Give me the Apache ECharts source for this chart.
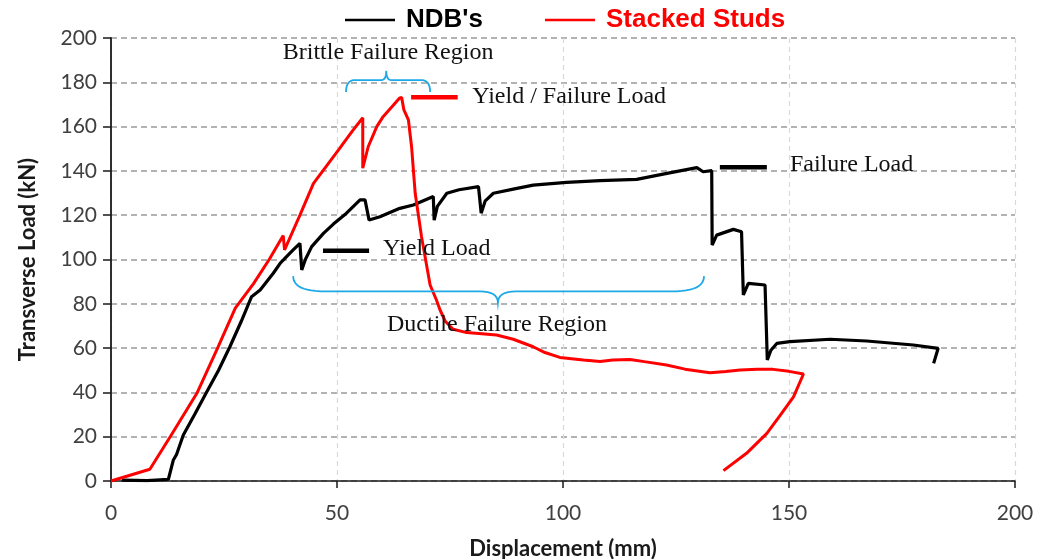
<!DOCTYPE html>
<html>
<head>
<meta charset="utf-8">
<script src="https://cdn.jsdelivr.net/npm/echarts@6/dist/echarts.min.js"></script>
<style>html,body{margin:0;padding:0;background:#fff}#c{width:1037px;height:559px}</style>
</head>
<body>
<div id="c"></div>
<script>
// ---- data (displacement mm, load kN) ----
const seriesNames = ["NDB's", "Stacked Studs"];
const ndbData = [
  [2.4,0.4],[8,0.2],[12.7,0.8],[13.8,9.5],[14.5,12],[16,20.8],[18.5,30],[21.2,40.3],[23.8,50],[26.3,60.6],
  [28.8,72],[31.1,83.2],[33,86.2],[35.9,93.8],[37.5,98.5],[40.3,104.3],[41.8,107.3],[42.2,95.3],[43,100],[44.4,105.8],
  [47,111.8],[49.2,116],[52.1,120.9],[55.1,126.9],[56.2,126.9],[57.1,117.8],[59.5,119.3],[63.9,123.1],[66.9,124.6],
  [71.3,128.4],[71.5,117.8],[72.2,124],[74.3,129.9],[77,131.5],[81.3,132.9],[81.9,120.9],[82.8,126.5],[84.6,129.9],
  [89,131.8],[93.4,133.6],[100.8,134.8],[108.2,135.6],[116.3,136.2],[123,138.9],[129.6,141.5],[131,139.6],[132.9,140.1],
  [133,106.5],[134,111],[137.7,113.6],[139.5,112.5],[139.9,84],[141,89.2],[144.7,88.5],[145.2,54.6],[146,59],
  [147.3,62.1],[150.2,62.9],[159.1,64],[167.2,63.2],[177.5,61.4],[183,59.9],[182,53.1]
];
const studsData = [
  [0,0],[8.6,5.3],[13.1,20],[19,39.6],[23.7,60.6],[27.5,78],[31.5,89],[35,100],[38.1,110.8],[38.4,104.3],
  [41.8,120],[44.8,134.4],[50.3,149.4],[53.3,157.7],[55.7,164],[55.7,141.2],[56.9,150.9],[58.8,160],[60.2,164.5],[62.5,169.8],
  [63.8,172.8],[64.3,173.2],[64.8,167.5],[65.8,163],[66.5,150.9],[67.3,129.9],[68.7,110.3],[70.6,88.5],[72,81.7],[72.8,77.2],
  [74,72],[75.7,68.5],[78.7,67],[82,66.5],[85.3,65.9],[89,64],[93.4,60.6],[96,58],[99.3,55.8],[104.5,54.6],[108.2,53.9],
  [111,54.6],[114.8,54.9],[118,53.9],[122.9,52.4],[127,50.5],[132.5,48.9],[136,49.4],[139.2,50.1],[143,50.5],
  [146.5,50.4],[150,49.5],[153.2,48.3],[151,38],[148,29.5],[145.1,21.5],[140.6,12.5],[135.5,4.7]
];
const xTicks = { min: 0, max: 200, interval: 50 };
const yTicks = { min: 0, max: 200, interval: 20 };
const axisNames = { x: 'Displacement (mm)', y: 'Transverse Load (kN)' };

// ---- annotation anchors (data coordinates) ----
const annoTexts = [
  { text: 'Brittle Failure Region', at: [61.3, 193.2], align: 'center' },
  { text: 'Yield / Failure Load', at: [79.9, 173.4], align: 'left' },
  { text: 'Yield Load', at: [60.2, 104.7], align: 'left' },
  { text: 'Failure Load', at: [150.2, 142.7], align: 'left' },
  { text: 'Ductile Failure Region', at: [85.4, 70.4], align: 'center' }
];
const annoLines = [
  { from: [66.4, 173.2], to: [76.7, 173.2], color: '#ff0000' },
  { from: [46.9, 104.0], to: [57.1, 104.0], color: '#000000' },
  { from: [134.7, 141.6], to: [145.1, 141.6], color: '#000000' }
];
const braces = [
  { x1: 52.0, x2: 70.6, xt: 60.9, yEnd: 175.6, yFlat: 181.0, yTip: 185.2, r: 9, rt: 5 },
  { x1: 40.3, x2: 131.2, xt: 85.6, yEnd: 92.5, yFlat: 85.6, yTip: 80.4, r: 32, rt: 18 }
];

const chart = echarts.init(document.getElementById('c'), null, { renderer: 'canvas' });
const tickFont = { fontFamily: 'Lato', fontSize: 21, color: '#404040' };
chart.setOption({
  animation: false,
  backgroundColor: '#ffffff',
  grid: { left: 111, right: 22, top: 38, bottom: 78, containLabel: false, outerBoundsMode: 'none' },
  legend: {
    left: 340, top: 2,
    itemWidth: 50, itemHeight: 2.5, itemGap: 62,
    icon: 'rect',
    textStyle: { fontFamily: 'Liberation Sans', fontWeight: 'bold', fontSize: 26, padding: [0, 0, 0, 6] },
    data: [
      { name: seriesNames[0], textStyle: { color: '#000000' } },
      { name: seriesNames[1], textStyle: { color: '#ff0000' } }
    ]
  },
  xAxis: {
    type: 'value', min: xTicks.min, max: xTicks.max, interval: xTicks.interval,
    name: axisNames.x, nameLocation: 'middle', nameGap: 57,
    nameTextStyle: { fontFamily: 'Lato', fontWeight: 'bold', fontSize: 22, color: '#1a1a1a' },
    axisLine: { show: true, onZero: false, lineStyle: { color: '#1a1a1a', width: 1.5 } },
    axisTick: { show: true, length: 7, lineStyle: { color: '#1a1a1a', width: 1.5 } },
    axisLabel: Object.assign({ margin: 22 }, tickFont),
    splitLine: { show: true, lineStyle: { color: '#d9d9d9', type: [5, 4], width: 1.2 } }
  },
  yAxis: {
    type: 'value', min: yTicks.min, max: yTicks.max, interval: yTicks.interval,
    name: axisNames.y, nameLocation: 'middle', nameGap: 72, nameRotate: 90,
    nameTextStyle: { fontFamily: 'Lato', fontWeight: 'bold', fontSize: 22, color: '#1a1a1a' },
    axisLine: { show: true, lineStyle: { color: '#1a1a1a', width: 1.8 } },
    axisTick: { show: true, length: 8, lineStyle: { color: '#1a1a1a', width: 1.5 } },
    axisLabel: Object.assign({ margin: 14 }, tickFont),
    splitLine: { show: true, lineStyle: { color: '#9a9a9a', type: [6, 4], width: 1.5 } }
  },
  series: [
    { name: seriesNames[0], type: 'line', data: ndbData, symbol: 'none', color: '#000000',
      lineStyle: { color: '#000000', width: 3.2 }, z: 3 },
    { name: seriesNames[1], type: 'line', data: studsData, symbol: 'none', color: '#ff0000',
      lineStyle: { color: '#ff0000', width: 3 }, z: 4 }
  ]
});

function px(p) { return chart.convertToPixel({ gridIndex: 0 }, p); }
function quad(out, p0, c, p1, n) {
  for (let i = 1; i <= n; i++) {
    const t = i / n, u = 1 - t;
    out.push([u * u * p0[0] + 2 * u * t * c[0] + t * t * p1[0], u * u * p0[1] + 2 * u * t * c[1] + t * t * p1[1]]);
  }
}
const g = [];
annoLines.forEach(l => {
  const a = px(l.from), b = px(l.to);
  g.push({ type: 'line', shape: { x1: a[0], y1: a[1], x2: b[0], y2: b[1] },
    style: { stroke: l.color, lineWidth: 4.5 }, z: 10 });
});
braces.forEach(b => {
  const pA = px([b.x1, b.yEnd]), pB = px([b.x2, b.yEnd]);
  const f = px([b.xt, b.yFlat])[1], t = px([b.xt, b.yTip]);
  const x1 = pA[0], x2 = pB[0], ye = pA[1], xt = t[0], yt = t[1];
  const pts = [[x1, ye]];
  quad(pts, [x1, ye], [x1, f], [x1 + b.r, f], 12);
  pts.push([xt - b.rt, f]);
  quad(pts, [xt - b.rt, f], [xt, f], [xt, yt], 8);
  quad(pts, [xt, yt], [xt, f], [xt + b.rt, f], 8);
  pts.push([x2 - b.r, f]);
  quad(pts, [x2 - b.r, f], [x2, f], [x2, ye], 12);
  g.push({ type: 'polyline', shape: { points: pts },
    style: { stroke: '#1da9e6', lineWidth: 1.8, fill: null }, z: 10 });
});
annoTexts.forEach(a => {
  const p = px(a.at);
  g.push({ type: 'text', x: p[0], y: p[1], z: 11,
    style: { text: a.text, font: '24px "Liberation Serif"', fill: '#111111',
      align: a.align, verticalAlign: 'middle' } });
});
chart.setOption({ graphic: g });
</script>
</body>
</html>
